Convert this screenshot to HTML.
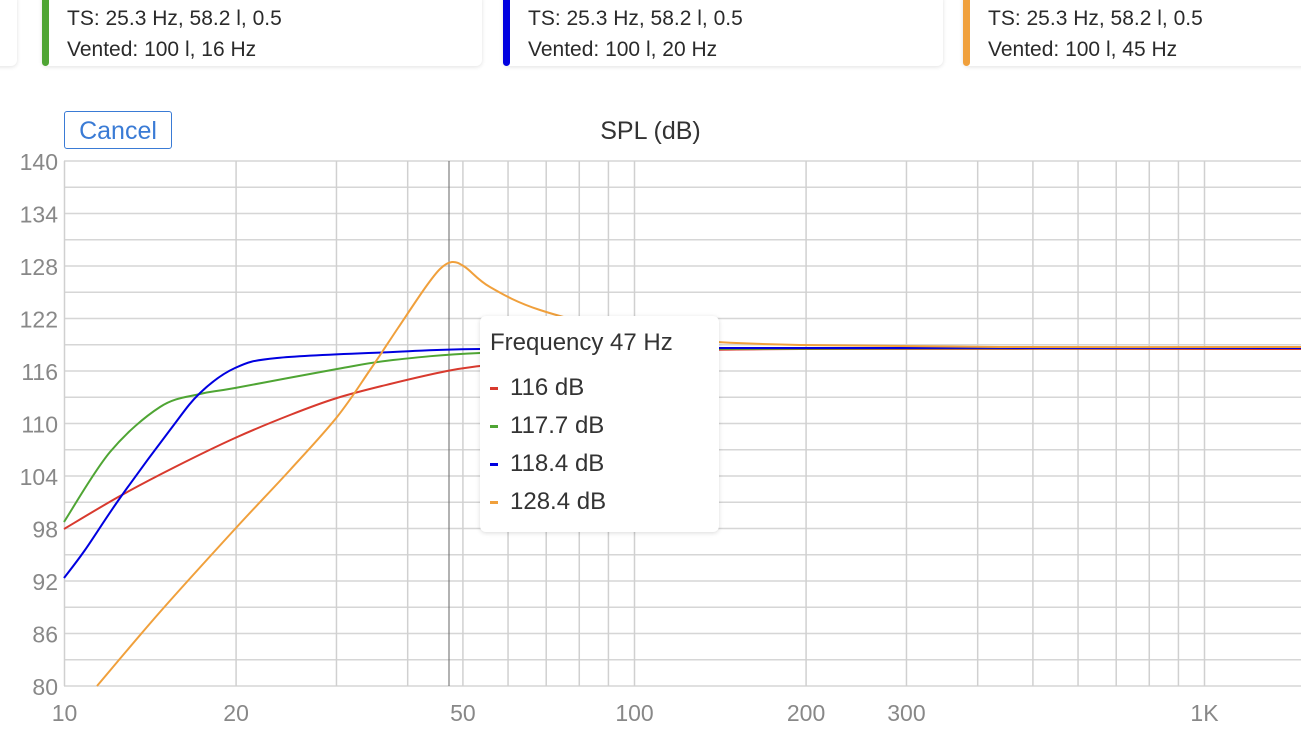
<!DOCTYPE html>
<html><head><meta charset="utf-8"><style>
body{margin:0;width:1301px;height:749px;overflow:hidden;background:#fff;font-family:"Liberation Sans",sans-serif;position:relative}
.card{position:absolute;top:-6px;height:72px;background:#fff;border-radius:6px;box-shadow:0 1px 4px rgba(0,0,0,.12)}
.bar{position:absolute;left:0;top:0;width:7px;height:72px;border-radius:4px}
.t{position:absolute;left:25px;font-size:21px;color:#2a2a2a}
.cancel{position:absolute;left:64px;top:111px;width:108px;height:38px;border:1px solid #3a7bd5;border-radius:3px;color:#3a7bd5;font-size:25px;line-height:38px;text-align:center;box-sizing:border-box}
.title{position:absolute;left:0;width:1301px;top:117px;text-align:center;font-size:25px;color:#333}
.tip{position:absolute;left:480px;top:316px;width:239px;height:216px;background:#fff;border-radius:6px;box-shadow:0 1px 5px rgba(0,0,0,.15);font-size:24px;color:#333}
.tip div{position:absolute;left:30px}
.tip span{position:absolute;left:-20px;top:13px;width:8px;height:3px}
</style></head><body>
<div class="card" style="left:-330px;width:347px"></div>
<div class="card" style="left:42px;width:440px"><div class="bar" style="background:#4fa534"></div><div class="t" style="top:13px">TS: 25.3 Hz, 58.2 l, 0.5</div><div class="t" style="top:44px">Vented: 100 l, 16 Hz</div></div>
<div class="card" style="left:503px;width:440px"><div class="bar" style="background:#0000e0"></div><div class="t" style="top:13px">TS: 25.3 Hz, 58.2 l, 0.5</div><div class="t" style="top:44px">Vented: 100 l, 20 Hz</div></div>
<div class="card" style="left:963px;width:360px"><div class="bar" style="background:#f0a03c"></div><div class="t" style="top:13px">TS: 25.3 Hz, 58.2 l, 0.5</div><div class="t" style="top:44px">Vented: 100 l, 45 Hz</div></div>
<div class="title">SPL (dB)</div>
<div class="cancel">Cancel</div>
<svg id="s" width="1301" height="749" style="position:absolute;left:0;top:0"></svg>
<div class="tip">
<div style="left:10px;top:13px">Frequency 47 Hz</div>
<div style="top:58px"><span style="background:#d83a2e"></span>116 dB</div>
<div style="top:96px"><span style="background:#4fa534"></span>117.7 dB</div>
<div style="top:134px"><span style="background:#0000e0"></span>118.4 dB</div>
<div style="top:172px"><span style="background:#f0a03c"></span>128.4 dB</div>
</div>
<script>
var s=document.getElementById('s'),h='';
function X(f){return 64.5+570*Math.log10(f/10);}
function Y(d){return 161+(140-d)*8.75;}
for(var d=80;d<=140;d+=3){var y=Y(d);h+='<line x1="64" x2="1301" y1="'+y+'" y2="'+y+'" stroke="#d6d6d6" stroke-width="1.5"/>';if((d-80)%6==0)h+='<text x="58" y="'+(y+9)+'" text-anchor="end" font-size="23" fill="#888" font-family="Liberation Sans">'+d+'</text>';}
[10,20,30,40,50,60,70,80,90,100,200,300,400,500,600,700,800,900,1000].forEach(function(f){var x=X(f);h+='<line x1="'+x+'" x2="'+x+'" y1="161" y2="686" stroke="#d0d0d0" stroke-width="1.5"/>';});
[[10,'10'],[20,'20'],[50,'50'],[100,'100'],[200,'200'],[300,'300'],[1000,'1K']].forEach(function(a){h+='<text x="'+X(a[0])+'" y="721" text-anchor="middle" font-size="23" fill="#888" font-family="Liberation Sans">'+a[1]+'</text>';});
h+='<line x1="449" x2="449" y1="161" y2="686" stroke="#666" stroke-width="1"/>';
function path(p,c){var d='M'+p[0][0]+','+p[0][1];for(var i=0;i<p.length-1;i++){var p0=p[Math.max(i-1,0)],p1=p[i],p2=p[i+1],p3=p[Math.min(i+2,p.length-1)];d+=' C'+(p1[0]+(p2[0]-p0[0])/6)+','+(p1[1]+(p2[1]-p0[1])/6)+' '+(p2[0]-(p3[0]-p1[0])/6)+','+(p2[1]-(p3[1]-p1[1])/6)+' '+p2[0]+','+p2[1];}return '<path d="'+d+'" fill="none" stroke="'+c+'" stroke-width="2"/>';}
h+=path([[64,529],[120,496],[175,467],[235,438],[290,415],[337,398],[390,384],[447,371],[480,366],[560,357],[634,352],[800,349],[1301,349]],'#d83a2e');
h+=path([[64,522],[110,452],[160,407],[200,394],[235,388],[337,369],[393,360],[480,353],[634,349],[1301,348]],'#4fa534');
h+=path([[64,578],[85,550],[120,498],[170,430],[200,393],[235,368],[277,358],[393,352],[480,349],[700,348],[1301,348]],'#0000e0');
h+=path([[97,686],[160,612],[235,529],[290,470],[337,417],[370,370],[398,328],[425,288],[440,269],[452,262],[465,267],[490,287],[540,310],[634,334],[700,341],[800,345],[1000,347],[1301,347]],'#f0a03c');
s.innerHTML=h;
</script>
</body></html>
